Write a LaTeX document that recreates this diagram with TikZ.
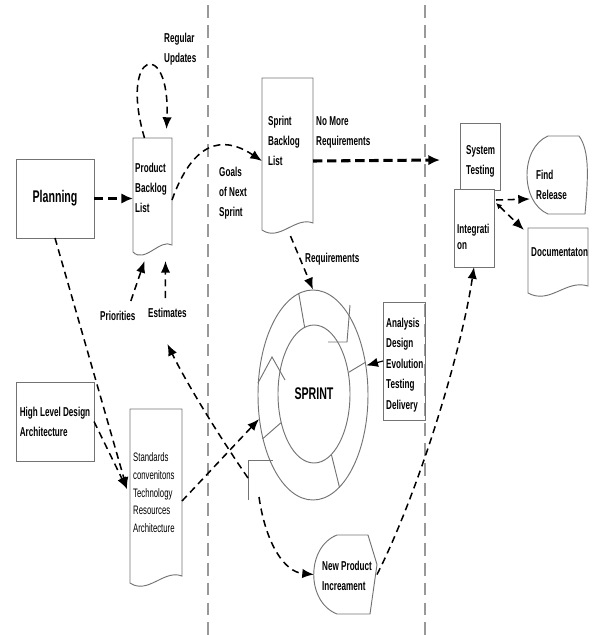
\documentclass[tikz,border=0pt]{standalone}
\usepackage{fontspec}
\setmainfont{Liberation Sans}[FakeStretch=0.63]
\usetikzlibrary{arrows.meta,calc,shapes.geometric}

\definecolor{edgegray}{gray}{0.45}
\definecolor{lanegray}{gray}{0.6}

\tikzset{
  outline/.style={draw=edgegray, line width=0.8pt},
  shapebox/.style={outline, inner sep=0pt, outer sep=0pt, anchor=north west},
  docbox/.style={inner sep=0pt, outer sep=0pt, anchor=north west},
  txt/.style={font=\bfseries\fontsize{11}{17}\selectfont, align=left, inner sep=0pt, anchor=north west},
  flow/.style={line width=1.3pt, dash pattern=on 6pt off 4pt, -{Latex[length=10pt,width=8pt]}},
  bigflow/.style={line width=2.6pt, dash pattern=on 8pt off 4pt, -{Latex[length=10pt,width=9pt]}},
  lane/.style={draw=lanegray, line width=0.9pt, dash pattern=on 11pt off 6pt},
}

% page with a wavy bottom edge
\newcommand{\docoutline}[1]{%
  \draw[outline] ($(#1.south east)+(0,-7)$) -- (#1.north east) -- (#1.north west)
    -- (#1.south west) .. controls ($(#1.south)+(-8,12)$) and ($(#1.south)+(8,-14)$) .. cycle;}

\begin{document}
\begin{tikzpicture}[x=0.03cm, y=-0.03cm]
  \useasboundingbox (0,0) rectangle (593,635);
  % lanes
  \draw[lane] (208,5) -- (208,635);
  \draw[lane] (425,5) -- (425,635);

  % planning side
  \node[shapebox, minimum width=2.34cm, minimum height=2.37cm,
        font=\bfseries\fontsize{14.4}{16}\selectfont] (planning) at (16,159) {Planning};
  \node[shapebox, minimum width=2.34cm, minimum height=2.37cm, align=left,
        font=\bfseries\fontsize{11}{17}\selectfont] (hld) at (16,382) {High Level Design\\Architecture};
  \node[docbox, minimum width=1.17cm, minimum height=3.42cm] (pbl) at (133,138) {};
  \docoutline{pbl}
  \node[txt] (pbltext) at (135,163) {Product\\Backlog\\List};
  \node[docbox, minimum width=1.56cm, minimum height=5.22cm] (std) at (130,409) {};
  \docoutline{std}
  \node[txt, font=\fontsize{10.5}{15.3}\selectfont] (stdtext) at (133,452)
    {Standards\\convenitons\\Technology\\Resources\\Architecture};
  \node[txt] (regupd) at (164,33) {Regular\\Updates};
  \node[txt] (prio) at (100,311) {Priorities};
  \node[txt] (est) at (148,308) {Estimates};

  % sprint lane
  \node[docbox, minimum width=1.53cm, minimum height=4.56cm] (sbl) at (262,78) {};
  \docoutline{sbl}
  \node[txt] (sbltext) at (268,116) {Sprint\\Backlog\\List};
  \node[txt] (goals) at (219,167) {Goals\\of Next\\Sprint};
  \node[txt] (nomore) at (316,116) {No More\\Requirements};
  \node[txt] (reqlbl) at (305,253) {Requirements};
  \node[shapebox, minimum width=1.26cm, minimum height=3.54cm] (ana) at (383,302) {};
  \node[txt, font=\bfseries\fontsize{11}{17.4}\selectfont] (anatext) at (386,318)
    {Analysis\\Design\\Evolution\\Testing\\Delivery};

  % sprint cycle
  \node[ellipse, outline, minimum width=3.3cm, minimum height=6.3cm] (ring) at (313,395) {};
  \node[ellipse, outline, minimum width=2.16cm, minimum height=4.14cm,
        font=\bfseries\fontsize{14.4}{16}\selectfont] (core) at (314,394) {SPRINT};
  \foreach \a in {98,32,221,286}{
    \draw[outline] (core.\a) -- (ring.\a);
  }
  \draw[outline] (350,305) -- (347,342) -- (328,342);
  \draw[outline] (258,383) -- (272,357) -- (285,380);
  \draw[outline] (248,500) -- (248,460) -- (273,460);
  \coordinate (tailA) at (248,478);
  \coordinate (tailB) at (259,497);

  % new product increment
  \node[docbox, minimum width=1.89cm, minimum height=2.37cm] (np) at (314,535) {};
  \draw[outline] ($(np.north west)+(23,0)$) -- ($(np.north east)+(-9,0)$) -- ($(np.east)+(0,-10)$)
    -- ($(np.south east)+(-7,0)$) -- ($(np.south west)+(23,0)$)
    .. controls ($(np.south west)+(-8,-12)$) and ($(np.north west)+(-8,12)$) .. cycle;
  \node[txt] (nptext) at (322,561) {New Product\\Increament};

  % release lane
  \node[shapebox, fill=white, minimum width=1.2cm, minimum height=2.01cm] (sys) at (460,123) {};
  \node[txt] (systext) at (466,145) {System\\Testing};
  \node[shapebox, fill=white, minimum width=1.2cm, minimum height=2.34cm] (integ) at (454,189) {};
  \node[txt, font=\bfseries\fontsize{11}{14}\selectfont] (integtext) at (457,224) {Integrati\\on};
  \node[docbox, minimum width=1.77cm, minimum height=2.34cm] (fr) at (527,136) {};
  \draw[outline] ($(fr.north west)+(21,0)$) -- ($(fr.north east)+(-7,0)$)
    .. controls ($(fr.north east)+(4,15)$) and ($(fr.south east)+(2,-35)$) .. ($(fr.south east)+(-1,0)$)
    -- ($(fr.south west)+(21,0)$)
    .. controls ($(fr.south west)+(-7,-12)$) and ($(fr.north west)+(-7,12)$) .. cycle;
  \node[txt] (frtext) at (536,170) {Find\\Release};
  \node[docbox, minimum width=1.8cm, minimum height=1.95cm] (doc) at (528,228) {};
  \docoutline{doc}
  \node[txt] (doctext) at (531,247) {Documentaton};

  % connectors
  \draw[bigflow] (planning.east) -- (planning.east -| pbl.west);
  \draw[flow] ($(pbl.north)+(-8,0)$) .. controls +(-26,-88) and +(4,-92) .. ($(pbl.north)+(14,-9)$);
  \draw[flow] ($(pbl.east)+(0,5)$) .. controls +(25,-70) and +(-30,-20) .. ($(sbl.west)+(0,7)$);
  \coordinate (release) at (440,160);
  \draw[bigflow] ($(sbl.east)+(0,7)$) -- (release);
  \draw[flow] ($(sbl.south)+(3,6)$) -- (ring.north);
  \draw[-{Latex[length=10pt,width=8pt]}, line width=1pt] (ana.west) -- (ring.29);
  \draw[flow] ($(std.east)+(0,5)$) -- (ring.204);
  \coordinate (stdin) at ($(std.west)+(-3,-7)$);
  \draw[flow] (planning.south) -- (stdin);
  \draw[flow] (hld.east) -- (stdin);
  \draw[flow] ($(prio.north)+(13,-10)$) -- ($(pbl.south)+(-8,9)$);
  \draw[flow] ($(est.north)+(-2,-10)$) -- ($(pbl.south)+(13,9)$);
  \draw[flow] (tailA) .. controls (215,430) and (185,380) .. ($(est.south)+(0,26)$);
  \draw[flow] (tailB) .. controls (266,545) and (285,572) .. (np.west);
  \draw[flow] (np.east) .. controls (415,500) and (460,360) .. (integ.south);
  \draw[flow] ($(integ.north east)+(2,11)$) -- ($(fr.west)+(3,24)$);
  \draw[flow, {Latex[length=5pt,width=5pt]}-{Latex[length=10pt,width=8pt]}]
    ($(integ.north east)+(2,14)$) -- ($(doc.north west)+(-4,2)$);
\end{tikzpicture}
\end{document}
